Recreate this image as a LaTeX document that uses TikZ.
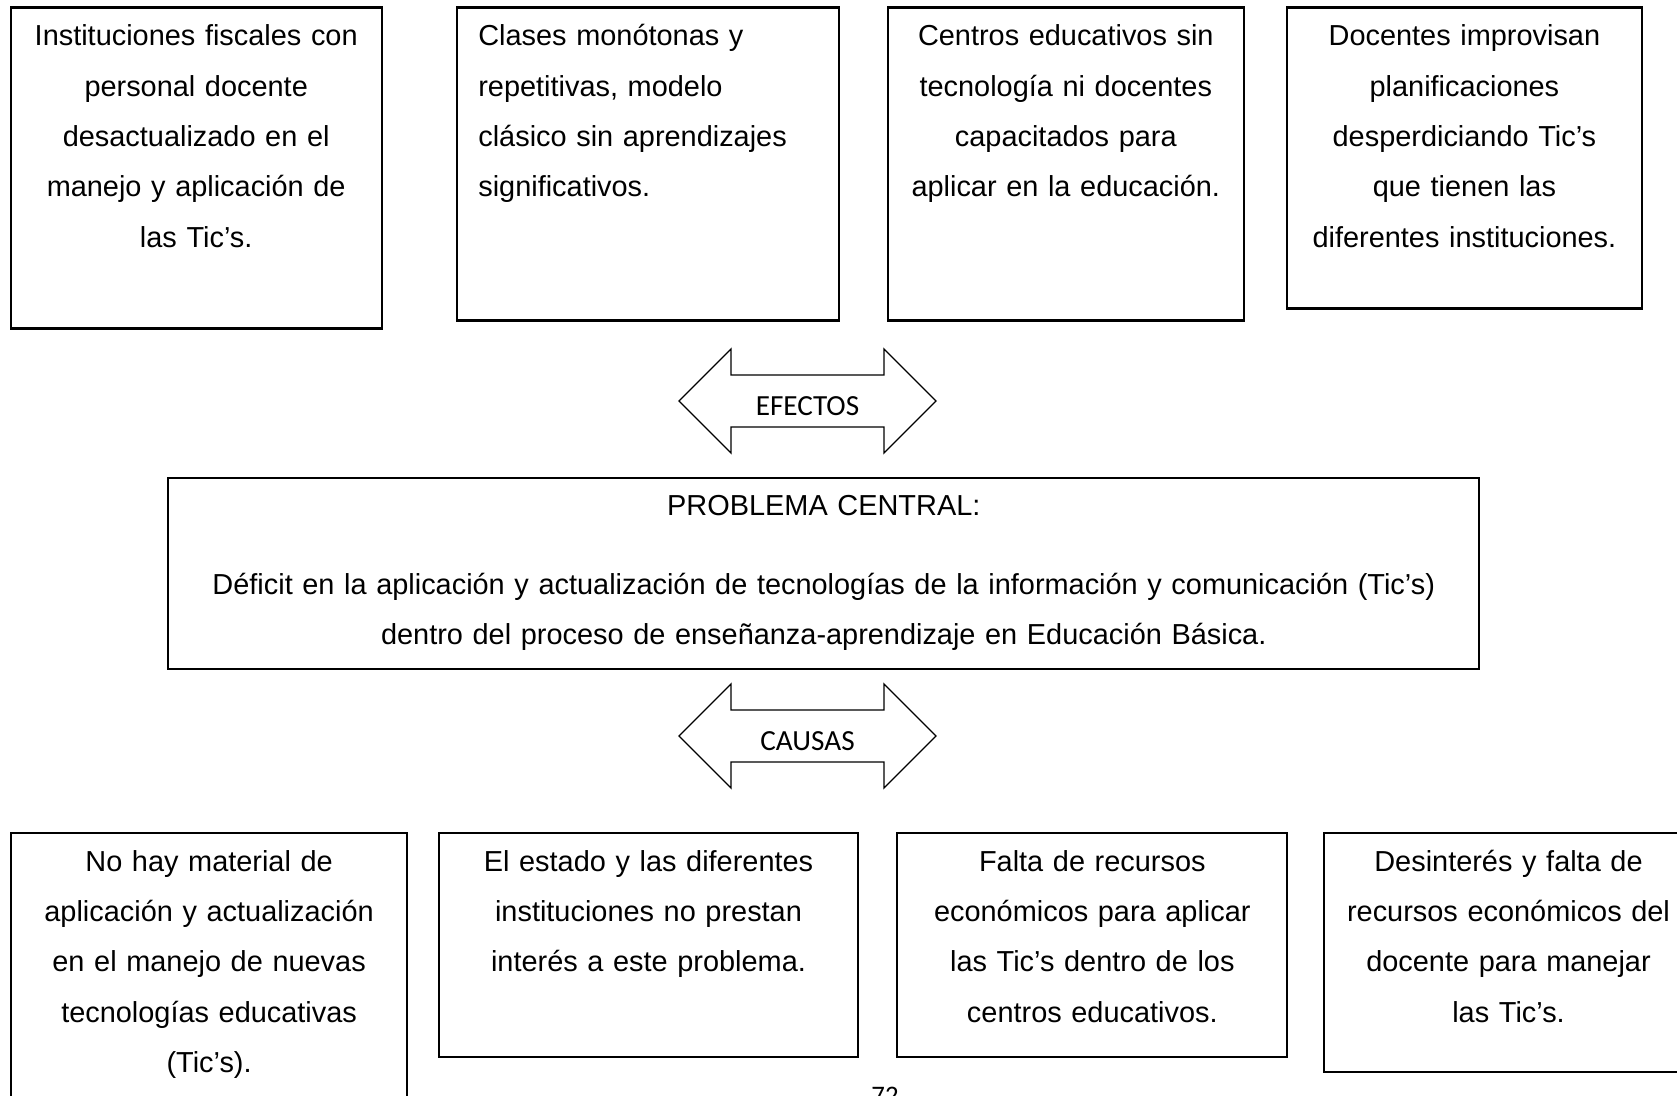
\documentclass[tikz,border=0pt]{standalone}
\usepackage{fontspec}
\setmainfont{Liberation Sans}
\newfontfamily\calibri{Carlito}
\usetikzlibrary{positioning}
\newcommand\pxu{0.411pt}

\begin{document}
\begin{tikzpicture}[x=\pxu, y=-\pxu,
  BOX/.style={draw, line width=0.85pt, inner sep=0pt, outer sep=0pt},
  TXT/.style={anchor=north, inner sep=0pt, outer sep=0pt, align=center,
              font=\fontsize{11.88}{20.67}\selectfont,
              execute at begin node=\strut},
  ARR/.style={draw, line width=0.55pt, line join=miter},
  LBL/.style={inner sep=0pt, font=\calibri\fontsize{12}{14}\selectfont},
  PGN/.style={inner sep=0pt, anchor=base, font=\calibri\fontsize{11}{13}\selectfont}
]
\useasboundingbox (0,0) rectangle (1677,1095);

% effects
\node[BOX, minimum width=371*\pxu, minimum height=321*\pxu] (e1) at (196.2,168) {};
\node[BOX, minimum width=382*\pxu, minimum height=313*\pxu] (e2) at (647.7,164) {};
\node[BOX, minimum width=356*\pxu, minimum height=313*\pxu] (e3) at (1065.8,164) {};
\node[BOX, minimum width=355.6*\pxu, minimum height=301*\pxu] (e4) at (1464.4,158) {};

\node[TXT, text width=363*\pxu, below=1.3pt of e1.north] (e1t)
  {Instituciones fiscales con\\ personal docente\\ desactualizado en el\\
   manejo y aplicación de\\ las Tic’s.};
\node[TXT, text width=350*\pxu, align=left, anchor=north west,
      below right=1.3pt and 8.9pt of e2.north west] (e2t)
  {Clases monótonas y\\ repetitivas, modelo\\ clásico sin aprendizajes\\
   significativos.};
\node[TXT, text width=348*\pxu, below=1.3pt of e3.north] (e3t)
  {Centros educativos sin\\ tecnología ni docentes\\ capacitados para\\
   aplicar en la educación.};
\node[TXT, text width=348*\pxu, below=1.3pt of e4.north] (e4t)
  {Docentes improvisan\\ planificaciones\\ desperdiciando Tic’s\\
   que tienen las\\ diferentes instituciones.};

% double arrows
\coordinate (efl) at (679,401);
\draw[ARR] (efl) -- ++(52,-52) -- ++(0,26) -- ++(153,0) -- ++(0,-26)
  -- ++(52,52) -- ++(-52,52) -- ++(0,-26) -- ++(-153,0) -- ++(0,26) -- cycle;
\node[LBL] (ef) at (807.5,406) {EFECTOS};

\coordinate (cal) at (679,736);
\draw[ARR] (cal) -- ++(52,-52) -- ++(0,26) -- ++(153,0) -- ++(0,-26)
  -- ++(52,52) -- ++(-52,52) -- ++(0,-26) -- ++(-153,0) -- ++(0,26) -- cycle;
\node[LBL] (ca) at (807.5,741) {CAUSAS};

% central problem
\node[BOX, minimum width=1311*\pxu, minimum height=191.6*\pxu] (pc) at (823.8,573.4) {};
\node[TXT, text width=1295*\pxu, below=1.3pt of pc.north] (pct)
  {PROBLEMA CENTRAL:\\[11.4pt]
   Déficit en la aplicación y actualización de tecnologías de la información y comunicación (Tic’s)\\
   dentro del proceso de enseñanza-aprendizaje en Educación Básica.};

% causes
\node[BOX, minimum width=396.6*\pxu, minimum height=314*\pxu] (c1) at (209.1,990) {};
\node[BOX, minimum width=418.6*\pxu, minimum height=224*\pxu] (c2) at (648.5,945) {};
\node[BOX, minimum width=390*\pxu, minimum height=224*\pxu] (c3) at (1092.3,945) {};
\node[BOX, minimum width=369*\pxu, minimum height=239.4*\pxu] (c4) at (1508.5,952.7) {};

\node[TXT, text width=388*\pxu, below=1.3pt of c1.north] (c1t)
  {No hay material de\\ aplicación y actualización\\ en el manejo de nuevas\\
   tecnologías educativas\\ (Tic’s).};
\node[TXT, text width=410*\pxu, below=1.3pt of c2.north] (c2t)
  {El estado y las diferentes\\ instituciones no prestan\\ interés a este problema.};
\node[TXT, text width=382*\pxu, below=1.3pt of c3.north] (c3t)
  {Falta de recursos\\ económicos para aplicar\\ las Tic’s dentro de los\\
   centros educativos.};
\node[TXT, text width=361*\pxu, below=1.3pt of c4.north] (c4t)
  {Desinterés y falta de\\ recursos económicos del\\ docente para manejar\\
   las Tic’s.};

% page number
\node[PGN] (pg) at (885,1104) {72};
\end{tikzpicture}
\end{document}
